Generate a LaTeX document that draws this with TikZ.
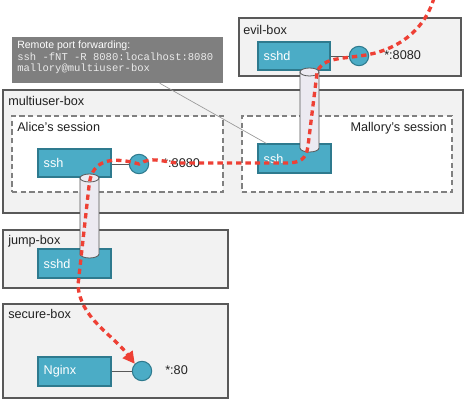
\documentclass[tikz,border=0pt]{standalone}
\usepackage{fontspec}
\setmainfont{Liberation Sans}
\setmonofont{Liberation Mono}
\usetikzlibrary{fit,calc,arrows.meta}
\definecolor{hostfill}{HTML}{F2F2F2}
\definecolor{hostdraw}{HTML}{595959}
\definecolor{procfill}{HTML}{4BACC6}
\definecolor{procdraw}{HTML}{2E7A8E}
\definecolor{callfill}{HTML}{7F7F7F}
\definecolor{tunfill}{HTML}{ECEAF1}
\definecolor{tundraw}{HTML}{555555}
\definecolor{redline}{HTML}{EE4035}
\definecolor{txt}{HTML}{222222}
\tikzset{
  host/.style={draw=hostdraw, fill=hostfill, line width=0.8pt, inner sep=0pt},
  session/.style={draw=gray, fill=white, dash pattern=on 4pt off 2.5pt, line width=0.8pt, inner sep=0pt},
  proc/.style={draw=procdraw, fill=procfill, line width=0.8pt, inner sep=0pt},
  port/.style={circle, draw=procdraw, fill=procfill, line width=0.8pt, minimum size=14.5pt, inner sep=0pt},
  lbl/.style={font=\fontsize{9.5}{11}\selectfont, text=txt, inner sep=0pt},
  plbl/.style={font=\fontsize{9.5}{11}\selectfont, text=white, inner sep=0pt, anchor=west},
  link/.style={draw=hostdraw, line width=0.7pt},
  tunnel/.style={draw=tundraw, fill=tunfill, line width=0.6pt},
  redpath/.style={draw=redline, line width=2.5pt, dash pattern=on 4pt off 3pt},
  callout/.style={fill=callfill, draw=none, inner sep=0pt},
  calltext/.style={anchor=north west, align=left, text=white, inner sep=0pt, font=\fontsize{7.9}{9}\selectfont},
}
\begin{document}
\begin{tikzpicture}[x=0.75pt,y=-0.75pt]
\useasboundingbox (0,0) rectangle (468,402);
% hosts
\node[host, fit={(239,18) (461,76)}] (evil) {};
\node[host, fit={(3,90) (463,213)}] (multi) {};
\node[host, fit={(3,230) (228,288)}] (jump) {};
\node[host, fit={(3,304) (228,398)}] (secure) {};
% sessions
\node[session, fit={(12,116) (223,192)}] (alice) {};
\node[session, fit={(242,116) (452,192)}] (mallory) {};
% processes
\node[proc, fit={(258,42) (330,70)}] (esshd) {};
\node[proc, fit={(38,149) (111,177)}] (assh) {};
\node[proc, fit={(258,144) (331,173)}] (mssh) {};
\node[proc, fit={(38,249) (111,278)}] (jsshd) {};
\node[proc, fit={(38,357) (111,386)}] (nginx) {};
% ports
\node[port] (p8080e) at (359,56) {};
\node[port] (p8080a) at (139,164) {};
\node[port] (p80) at (142,371) {};
\draw[link] (esshd.east |- p8080e) -- (p8080e);
\draw[link] (assh.east |- p8080a) -- (p8080a);
\draw[link] (nginx.east |- p80) -- (p80);
% labels
\node[lbl, anchor=base west] at (243,35) {evil-box};
\node[lbl, anchor=base west] at (8,106) {multiuser-box};
\node[lbl, anchor=base west] at (17,132) {Alice's session};
\node[lbl, anchor=base east] at (447,132) {Mallory's session};
\node[lbl, anchor=base west] at (8,245) {jump-box};
\node[lbl, anchor=base west] at (8,319) {secure-box};
\node[plbl] at ([xshift=4.5pt]esshd.west) {sshd};
\node[plbl] at ([xshift=4.5pt]assh.west) {ssh};
\node[plbl] at ([xshift=4.5pt]mssh.west) {ssh};
\node[plbl] at ([xshift=4.5pt]jsshd.west) {sshd};
\node[plbl] at ([xshift=4.5pt]nginx.west) {Nginx};
\node[lbl, anchor=base west] at (384,60) {*:8080};
\node[lbl, anchor=base west] at (163,168) {*:8080};
\node[lbl, anchor=base west] at (165,375) {*:80};
% callout
\node[callout, fit={(12,37) (223,83)}] (call) {};
\node[calltext] at (17,41) {Remote port forwarding:\\[-0.5pt]
  {\ttfamily\color[HTML]{EBEBEB}ssh -fNT -R 8080:localhost:8080}\\[-0.5pt]
  {\ttfamily\color[HTML]{EBEBEB}mallory@multiuser-box}};
\draw[draw=gray!80, line width=0.5pt] ($(call.south west)+(148,0)$) -- ($(mssh.north west)+(9,0)$);
% tunnels
\path[tunnel] (300,72) -- (300,148) arc[start angle=180,end angle=360,x radius=7.125pt,y radius=3pt] -- (319,72) -- cycle;
\draw[tunnel] (309.5,72) ellipse [x radius=7.125pt, y radius=3pt];
\path[tunnel] (80,178) -- (80,254) arc[start angle=180,end angle=360,x radius=7.125pt,y radius=3pt] -- (99,178) -- cycle;
\draw[tunnel] (89.5,178) ellipse [x radius=7.125pt, y radius=3pt];
% attack path
\draw[redpath, -{Triangle[length=9pt,width=9pt]}] (434,-2)
  .. controls (424,32) and (395,52) .. (p8080e.center)
  .. controls (340,59) and (321,58) .. (317,73)
  -- (308,146)
  .. controls (306,160) and (300,163) .. (285,163)
  -- (178,163)
  .. controls (162,162) and (152,156) .. (p8080a.center)
  .. controls (104,154) and (91,165) .. (89,186)
  -- (78,285)
  .. controls (80,318) and (112,334) .. (p80.north west);
\end{tikzpicture}
\end{document}
